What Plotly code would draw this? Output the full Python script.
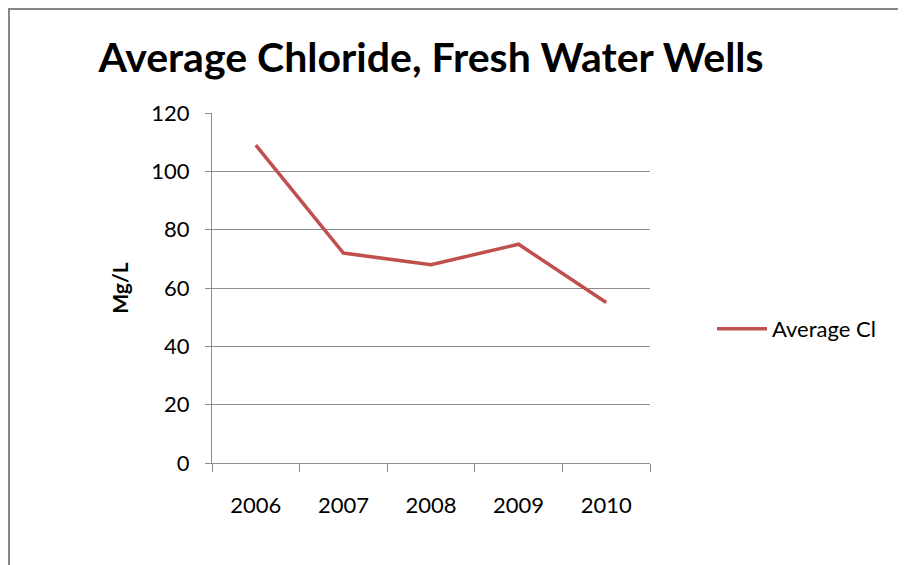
import plotly.graph_objects as go

years = ["2006", "2007", "2008", "2009", "2010"]
avg_cl = [109, 72, 68, 75, 55]
y_ticks = [0, 20, 40, 60, 80, 100, 120]

FONT = "Lato"
GRID = "#8c8c8c"
OFF = 8  # page body margin

fig = go.Figure()
fig.add_trace(go.Scatter(
    x=years, y=avg_cl, mode="lines", name="Average Cl",
    line=dict(color="#C0504D", width=3.5),
))

L, R, T, B = 212 - OFF, 650 - OFF, 113 - OFF, 463 - OFF
W, H = 906, 565
pw, ph = R - L, B - T

def px(x):
    return (x - OFF - L) / pw

def py(y):
    return (B - (y - OFF)) / ph

fig.update_layout(
    width=W, height=H,
    margin=dict(l=L, r=W - R, t=T, b=H - B, pad=0),
    paper_bgcolor="white", plot_bgcolor="white",
    font=dict(family=FONT, color="#000000"),
    title=dict(text="<b>Average Chloride, Fresh Water Wells</b>",
               font=dict(family=FONT, size=41, color="#000000"),
               x=0.5, xanchor="center", xref="paper", y=1 - (58 - OFF) / H, yanchor="middle"),
    showlegend=True,
    legend=dict(x=px(712), y=py(329), xanchor="left", yanchor="middle",
                font=dict(family=FONT, size=22, color="#000000"),
                bgcolor="rgba(0,0,0,0)", itemwidth=50),
    shapes=[dict(type="rect", xref="paper", yref="paper",
                 x0=px(OFF + 1), x1=px(903), y0=py(OFF + 1), y1=py(585),
                 line=dict(color="#868686", width=2), fillcolor="rgba(0,0,0,0)",
                 layer="below")],
)

fig.update_xaxes(
    type="category", tickson="boundaries", ticks="outside", ticklen=8,
    tickcolor=GRID, tickwidth=1, showline=True, linecolor=GRID, linewidth=1,
    showgrid=False, tickfont=dict(family=FONT, size=22), ticklabelstandoff=23,
    range=[-0.5, 4.5],
)
fig.update_yaxes(
    range=[0, 120], tickvals=y_ticks, ticks="outside", ticklen=6,
    tickcolor=GRID, showline=True, linecolor=GRID, linewidth=1,
    showgrid=True, gridcolor=GRID, gridwidth=1, zeroline=False,
    tickfont=dict(family=FONT, size=22), ticklabelstandoff=11,
    title=dict(text="<b>Mg/L</b>", font=dict(family=FONT, size=21), standoff=16),
)

fig.write_html("out.html")
